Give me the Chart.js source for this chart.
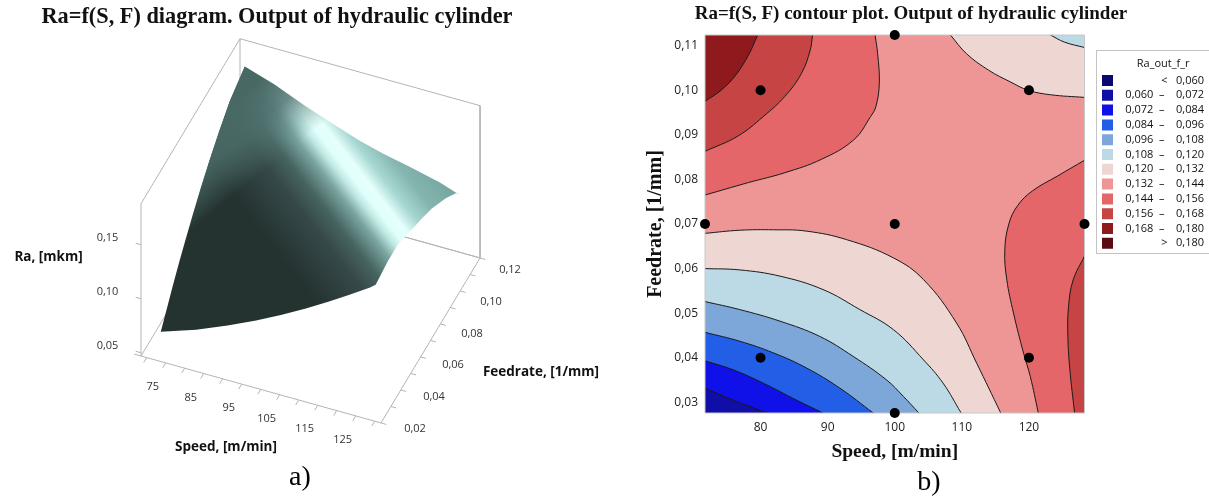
<!DOCTYPE html>
<html><head><meta charset="utf-8">
<script src="https://cdn.jsdelivr.net/npm/chart.js@4/dist/chart.umd.js"></script>
<style>
html,body{margin:0;padding:0;background:#fff;width:1209px;height:497px;overflow:hidden}
canvas{position:absolute;top:0}
#c3d{left:0}
#cmap{left:613px}
</style></head><body>
<canvas id="c3d" width="620" height="497"></canvas>
<canvas id="cmap" width="596" height="497"></canvas>
<script>
// ---------- shared ranges ----------
const speedMin = 71.72, speedMax = 128.28;
const feedMin = 0.0276, feedMax = 0.1124;

// ---------- 3-D surface: Ra along the four surface edges ----------
const frontSpeed = [71.72, 81, 89.3, 96.8, 103.6, 109.9, 115.8, 121.4, 126.8, 128.28];
const frontRa    = [0.061, 0.072, 0.084, 0.096, 0.108, 0.120, 0.132, 0.144, 0.156, 0.160];
const rightFeed  = [0.0276, 0.04, 0.05, 0.0628, 0.0745, 0.0843, 0.0984, 0.1096, 0.1124];
const rightRa    = [0.160, 0.163, 0.163, 0.156, 0.150, 0.144, 0.132, 0.120, 0.1136];
const backSpeed  = [128.28, 123.2, 115, 108.3, 102, 97.07, 87.75, 79.57, 71.72];
const backRa     = [0.1136, 0.120, 0.127, 0.132, 0.138, 0.144, 0.156, 0.168, 0.177];
const leftFeed   = [0.1124, 0.0975, 0.0863, 0.0765, 0.0679, 0.060, 0.0526, 0.0457, 0.0393, 0.0332, 0.0276];
const leftRa     = [0.177, 0.168, 0.156, 0.144, 0.132, 0.120, 0.108, 0.096, 0.084, 0.072, 0.061];

// 3-D axis ticks
const boxSpeed = [68.5, 131.66], boxFeed = [0.02, 0.12], boxRa = [0.047, 0.188];
const speedTicks3d = [70, 75, 80, 85, 90, 95, 100, 105, 110, 115, 120, 125, 130];
const speedLabels3d = [75, 85, 95, 105, 115, 125];
const feedTicks3d = [0.02, 0.03, 0.04, 0.05, 0.06, 0.07, 0.08, 0.09, 0.10, 0.11, 0.12];
const feedLabels3d = [0.02, 0.04, 0.06, 0.08, 0.10, 0.12];
const raTicks3d = [0.05, 0.10, 0.15];

// ---------- contour lines (Speed, Feedrate) ----------
const c144S = [97.07, 97.45, 97.7, 97.2, 96.4, 93.9, 89.05, 83.6, 78.2, 71.72];
const c144F = [0.1124, 0.1082, 0.1016, 0.0964, 0.0941, 0.0889, 0.0845, 0.0815, 0.0793, 0.0765];
const c156S = [87.75, 87.4, 86.1, 83.6, 80.4, 76.6, 71.72];
const c156F = [0.1124, 0.109, 0.1038, 0.0986, 0.0941, 0.0897, 0.0863];
const c168S = [79.57, 78.2, 76.3, 74.2, 71.72];
const c168F = [0.1124, 0.1079, 0.1034, 0.1001, 0.0975];
const tr132S = [108.3, 110.7, 114, 117.2, 119.9, 123.2, 128.28];
const tr132F = [0.1124, 0.1082, 0.1045, 0.1019, 0.100, 0.099, 0.0984];
const tr120S = [123.2, 125.3, 128.28];
const tr120F = [0.1124, 0.1108, 0.1096];
const rt144S = [128.28, 124.3, 120.5, 118.3, 117, 116.4, 116.7, 117.7, 119.2, 120.2, 121.4];
const rt144F = [0.0843, 0.0808, 0.0774, 0.0741, 0.070, 0.0640, 0.0575, 0.050, 0.041, 0.0358, 0.0276];
const rt156S = [128.28, 126.6, 125.9, 125.8, 126.1, 126.8];
const rt156F = [0.0628, 0.0575, 0.0515, 0.0448, 0.0373, 0.0276];
const ll132S = [71.72, 76.9, 81.9, 86.85, 92.8, 99.8, 104.3, 109.2, 112.2, 115.8];
const ll132F = [0.0679, 0.0686, 0.0687, 0.0684, 0.0665, 0.0624, 0.0575, 0.0478, 0.0388, 0.0276];
const ll120S = [71.72, 76.9, 82.9, 89.3, 94.8, 99.8, 104.3, 107.2, 109.9];
const ll120F = [0.0600, 0.0597, 0.0583, 0.0553, 0.0508, 0.0463, 0.0395, 0.0343, 0.0276];
const ll108S = [71.72, 76.9, 82.9, 88.8, 93.8, 98.8, 101.3, 103.6];
const ll108F = [0.0526, 0.0508, 0.0482, 0.0448, 0.0403, 0.035, 0.0313, 0.0276];
const ll096S = [71.72, 76.9, 81.9, 86.85, 91.8, 96.8];
const ll096F = [0.0457, 0.0437, 0.0411, 0.0377, 0.0332, 0.0276];
const ll084S = [71.72, 75.9, 80.4, 85.35, 89.3];
const ll084F = [0.0393, 0.0373, 0.0343, 0.0305, 0.0276];
const ll072S = [71.72, 75.9, 81.0];
const ll072F = [0.0332, 0.0305, 0.0276];

// design points
const designS = [71.72, 80, 80, 100, 100, 100, 120, 120, 128.28];
const designF = [0.07, 0.04, 0.10, 0.0276, 0.07, 0.1124, 0.04, 0.10, 0.07];

// legend
const legendLabels = ['<   0,060', '0,060  \u2013    0,072', '0,072  \u2013    0,084', '0,084  \u2013    0,096', '0,096  \u2013    0,108', '0,108  \u2013    0,120', '0,120  \u2013    0,132', '0,132  \u2013    0,144', '0,144  \u2013    0,156', '0,156  \u2013    0,168', '0,168  \u2013    0,180', '>   0,180'];
const legendColors = ['#0a0a6e', '#0f0fa8', '#1010e8', '#235fe6', '#7da6d9', '#bcd9e6', '#eed7d3', '#ee9595', '#e56668', '#c64444', '#8f1a1e', '#5c0a12'];
const C = Object.fromEntries(['l60','b72','b84','b96','b108','b120','r132','r144','r156','r168','r180','g180'].map((k,i)=>[k,legendColors[i]]));

const serif = '"Liberation Serif"', sans = '"Open Sans"';
const numFmt = v => v.toFixed(2).replace('.', ',');

// ---------- LEFT: projected 3-D surface ----------
const origin = {x:141, y:356}, perS = {x:3.8, y:1.06}, perF = {x:990, y:-1650}, perR = -1080;
function project(s, f, r) {
  const ds = s - boxSpeed[0], df = f - boxFeed[0], dr = r - boxRa[0];
  return {x: origin.x + ds*perS.x + df*perF.x, y: origin.y + ds*perS.y + df*perF.y + dr*perR};
}
const outline = [
  ...frontSpeed.map((s,i)=>project(s, feedMin, frontRa[i])),
  ...rightFeed.map((f,i)=>project(speedMax, f, rightRa[i])),
  ...backSpeed.map((s,i)=>project(s, feedMax, backRa[i])),
  ...leftFeed.map((f,i)=>project(speedMin, f, leftRa[i]))
];
const [S0,S1] = boxSpeed, [F0,F1] = boxFeed, [R0,R1] = boxRa;
const gap = {x:NaN, y:NaN};
const boxBack = [project(S0,F1,R0), project(S0,F1,R1), project(S1,F1,R1), project(S1,F1,R0), project(S0,F1,R0)];
const boxFloor = [project(S0,F0,R0), project(S1,F0,R0), project(S1,F1,R0), project(S0,F1,R0), project(S0,F0,R0)];
const boxSide = [project(S0,F0,R0), project(S0,F0,R1), project(S0,F1,R1)];
const tickSegs = [];
speedTicks3d.forEach(s=>{tickSegs.push(project(s,F0,R0),project(s,F0-0.003,R0),gap);});
feedTicks3d.forEach(f=>{tickSegs.push(project(S1,f,R0),project(S1+1.4,f,R0),gap);});
raTicks3d.forEach(r=>{tickSegs.push(project(S0,F0,r),project(S0-1.4,F0,r),gap);});
tickSegs.push(project(S0,F0,R0),project(S0-1.8,F0,R0),gap);

const cv3 = document.getElementById('c3d');
const g2d = cv3.getContext('2d');
const bandP = {x:328, y:147}, bandN = {x:0.789, y:-0.615}, t0 = -260, t1 = 110;
const surfGrad = g2d.createLinearGradient(bandP.x+t0*bandN.x, bandP.y+t0*bandN.y, bandP.x+t1*bandN.x, bandP.y+t1*bandN.y);
[[-260,'#243230'],[-105,'#243230'],[-60,'#36494a'],[-40,'#466460'],[-20,'#7aa4a0'],[-8,'#bfe8e3'],[0,'#e0fffb'],[10,'#e6fffc'],[24,'#a8d8d2'],[44,'#84b5af'],[110,'#64908b']]
  .forEach(([t,c])=>surfGrad.addColorStop((t-t0)/(t1-t0), c));
const tipGrad = g2d.createLinearGradient(268,72,315,130);
tipGrad.addColorStop(0,'rgba(72,104,100,1)');
tipGrad.addColorStop(0.45,'rgba(78,112,108,0.8)');
tipGrad.addColorStop(1,'rgba(90,130,125,0)');

const labelPlugin3d = {
  id:'labels3d',
  afterDraw(chart){
    const c = chart.ctx, sx = chart.scales.x, sy = chart.scales.y;
    const put = (p,dx,dy,txt)=>c.fillText(txt, sx.getPixelForValue(p.x)+dx, sy.getPixelForValue(p.y)+dy);
    c.save();
    c.textAlign='center'; c.textBaseline='middle'; c.fillStyle='#333';
    c.font='11px '+sans;
    speedLabels3d.forEach(s=>put(project(s,F0,R0),-13,24,String(s)));
    feedLabels3d.forEach(f=>{const k=(f-F0)/(F1-F0); put(project(S1,f,R0),34-4*k,6+6*k,numFmt(f));});
    raTicks3d.forEach(r=>put(project(S0,F0,r),-33.5,-7,numFmt(r)));
    c.fillStyle='#111'; c.font='bold 13.5px '+sans;
    c.fillText('Ra, [mkm]',48.5,257);
    c.fillText('Speed, [m/min]',226,447);
    c.fillText('Feedrate, [1/mm]',541,372);
    c.fillStyle='#000'; c.font='28px '+serif;
    c.fillText('a)',300,478);
    c.restore();
  }
};
const line3d = (data,order)=>({data,showLine:true,pointRadius:0,borderColor:'#b4b4b4',borderWidth:1,fill:false,tension:0,order,spanGaps:false});
const surfaceDs = (bg,order)=>({data:outline,showLine:true,pointRadius:0,borderWidth:0,borderColor:'transparent',backgroundColor:bg,fill:'shape',tension:0,order});
new Chart(cv3,{
  type:'scatter',
  data:{datasets:[
    surfaceDs(tipGrad,-1),surfaceDs(surfGrad,0),
    line3d(boxBack,3),line3d(boxFloor,2),line3d(boxSide,2),line3d(tickSegs,2)
  ]},
  options:{
    responsive:false,animation:false,
    layout:{padding:{right:66}},
    scales:{
      x:{type:'linear',min:0,max:554,display:false},
      y:{type:'linear',min:33,max:497,reverse:true,display:false}
    },
    plugins:{
      legend:{display:false},tooltip:{enabled:false},
      title:{display:true,text:'Ra=f(S, F) diagram. Output of hydraulic cylinder',color:'#111',
        font:{family:serif,size:22.3,weight:'bold',lineHeight:1},padding:{top:6,bottom:4.7}}
    }
  },
  plugins:[labelPlugin3d]
});

// ---------- RIGHT: contour map ----------
const out = {xl:speedMin-14, xr:speedMax+14, yb:feedMin-0.014, yt:feedMax+0.014};
const pts = (S,F)=>S.map((s,i)=>({x:s,y:F[i]}));
// continue a contour past the plot edge so it leaves the frame along its own direction
const beyond = (a,b)=>({x:b.x+(b.x-a.x),y:b.y+(b.y-a.y)});
const region = (S,F,corner,color)=>{
  const p = pts(S,F), n = p.length;
  return {
    data:[beyond(p[1],p[0]),...p,beyond(p[n-2],p[n-1]),corner],showLine:true,pointRadius:0,fill:'shape',
    backgroundColor:color,borderColor:'#1a1a1a',borderWidth:1,tension:0.4
  };
};
const TL={x:out.xl,y:out.yt}, TR={x:out.xr,y:out.yt}, BR={x:out.xr,y:out.yb}, BL={x:out.xl,y:out.yb};
const painted = [ // bottom to top
  {data:[{x:speedMin,y:feedMin},{x:speedMin,y:feedMax},{x:speedMax,y:feedMax},{x:speedMax,y:feedMin}],showLine:true,pointRadius:0,fill:'shape',backgroundColor:C.r144,borderWidth:0,borderColor:'transparent',tension:0},
  region(c144S,c144F,TL,C.r156),
  region(c156S,c156F,TL,C.r168),
  region(c168S,c168F,TL,C.r180),
  region(tr132S,tr132F,TR,C.r132),
  region(tr120S,tr120F,TR,C.b120),
  region(rt144S,rt144F,BR,C.r156),
  region(rt156S,rt156F,BR,C.r168),
  region(ll132S,ll132F,BL,C.r132),
  region(ll120S,ll120F,BL,C.b120),
  region(ll108S,ll108F,BL,C.b108),
  region(ll096S,ll096F,BL,C.b96),
  region(ll084S,ll084F,BL,C.b84),
  region(ll072S,ll072F,BL,C.b72),
  {data:[{x:speedMin,y:feedMin},{x:speedMin,y:feedMax},{x:speedMax,y:feedMax},{x:speedMax,y:feedMin},{x:speedMin,y:feedMin}],showLine:true,pointRadius:0,fill:false,borderColor:'#c8c8c8',borderWidth:1,tension:0,clip:false},
  {data:pts(designS,designF),showLine:false,pointRadius:5,pointBackgroundColor:'#000',pointBorderWidth:0,clip:false}
];
painted.forEach((d,i)=>{d.order=painted.length-i;});

const OFF = 613;
const legendPlugin = {
  id:'legendPlace',
  beforeLayout(chart){
    const lg = chart.legend;
    if(!lg._patched){
      const f = lg.fit;
      lg.fit = function(){ f.call(this); this.width = 1209-1084.5; };
      lg._patched = true;
    }
  },
  afterLayout(chart){
    const lg = chart.legend;
    lg.left = 1102-OFF-3.8; lg.right = 1204-OFF; lg.width = 130;
    lg.top = 58; lg.bottom = 497; lg.height = 439;
  },
  afterDraw(chart){
    const c = chart.ctx;
    c.save();
    c.strokeStyle='#c4c4c4'; c.lineWidth=1;
    c.strokeRect(1096.5-OFF,50.5,130,203);
    c.fillStyle='#000'; c.font='28px '+serif; c.textAlign='center'; c.textBaseline='middle';
    c.fillText('b)',929-OFF,483);
    c.restore();
  }
};
new Chart(document.getElementById('cmap'),{
  type:'scatter',
  data:{datasets:painted},
  options:{
    responsive:false,animation:false,
    scales:{
      x:{type:'linear',min:speedMin,max:speedMax,
        afterFit(s){s.height=84;},
        grid:{display:false,drawTicks:false},border:{display:false},
        ticks:{stepSize:10,includeBounds:false,autoSkip:false,maxRotation:0,padding:7,color:'#222',font:{family:sans,size:12},callback:v=>String(v)},
        title:{display:true,text:'Speed, [m/min]',color:'#111',font:{family:serif,size:19.5,weight:'bold',lineHeight:1},padding:{top:0,bottom:35}}},
      y:{type:'linear',min:feedMin,max:feedMax,
        afterFit(s){s.width=92;},
        grid:{display:false,drawTicks:false},border:{display:false},
        ticks:{stepSize:0.01,includeBounds:false,autoSkip:false,padding:7,color:'#222',font:{family:sans,size:12},callback:numFmt},
        title:{display:true,text:'Feedrate, [1/mm]',color:'#111',font:{family:serif,size:20,weight:'bold',lineHeight:1},padding:{top:33,bottom:0}}}
    },
    plugins:{
      tooltip:{enabled:false},
      title:{display:true,text:'Ra=f(S, F) contour plot. Output of hydraulic cylinder',color:'#111',
        font:{family:serif,size:19,weight:'bold',lineHeight:1},padding:{top:5,bottom:11}},
      legend:{display:true,position:'right',align:'start',
        title:{display:true,text:'Ra_out_f_r',color:'#111',position:'center',font:{family:sans,size:11,lineHeight:1.2},padding:0},
        labels:{boxWidth:11,boxHeight:11,padding:3.8,color:'#111',font:{family:sans,size:11},
          generateLabels:()=>legendLabels.map((t,i)=>({text:t,fillStyle:legendColors[i],strokeStyle:legendColors[i],lineWidth:0,textAlign:'right',hidden:false,datasetIndex:0}))
        }
      }
    }
  },
  plugins:[legendPlugin]
});
</script>
</body></html>
